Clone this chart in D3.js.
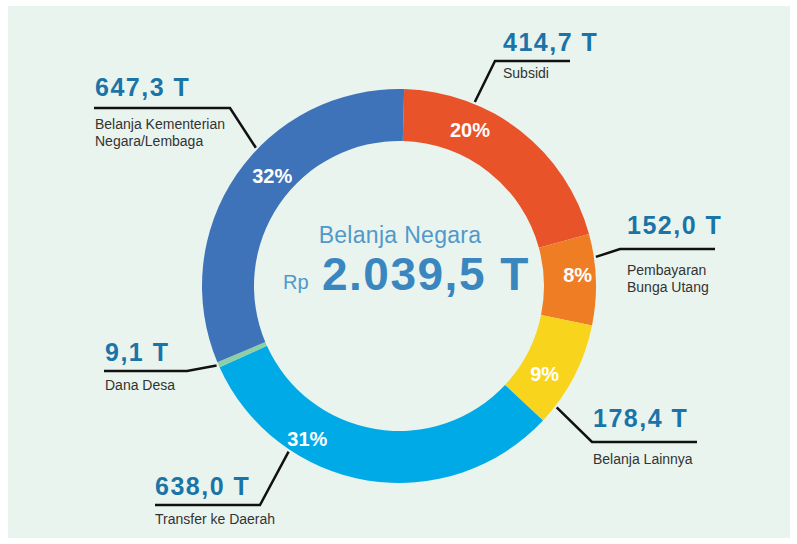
<!DOCTYPE html>
<html>
<head>
<meta charset="utf-8">
<script src="https://cdn.jsdelivr.net/npm/d3@7"></script>
<style>
  body { margin: 0; background: #fff; }
  svg { display: block; }
</style>
</head>
<body>
<script>
// data - Belanja Negara (triliun rupiah)
const categories = ["Subsidi", "Pembayaran Bunga Utang", "Belanja Lainnya", "Transfer ke Daerah", "Dana Desa", "Belanja Kementerian Negara/Lembaga"];
const values = [414.7, 152.0, 178.4, 638.0, 9.1, 647.3];
const pctLabels = ["20%", "8%", "9%", "31%", "", "32%"];
const labelLines = [["Subsidi"], ["Pembayaran", "Bunga Utang"], ["Belanja Lainnya"], ["Transfer ke Daerah"], ["Dana Desa"], ["Belanja Kementerian", "Negara/Lembaga"]];
const colors = ["#e8532a", "#ef7d23", "#f8d41d", "#00aae7", "#8ecfa6", "#3f73b9"];
const centerTitle = "Belanja Negara";

const W = 797, H = 544;
const cx = 399, cy = 286;
const rOuter = 197, rInner = 145;

// posisi callout (sudut dalam derajat dari atas, searah jarum jam)
const layout = {
    "Subsidi": { a: 22.4, ex: 495, ey: 61, fx: 570, tx: 503, vy: 51, ly: 78, pa: 24.5, pr: 171 },
    "Pembayaran Bunga Utang": { a: 81.6, ex: 620, ey: 249, fx: 715, tx: 627, vy: 234, ly: 275, pa: 86.5, pr: 179 },
    "Belanja Lainnya": { a: 127.6, ex: 592, ey: 442, fx: 697, tx: 593, vy: 427, ly: 464, pa: 121, pr: 170 },
    "Transfer ke Daerah": { a: 213.7, ex: 260, ey: 505, fx: 155, tx: 155, vy: 495, ly: 524, pa: 211, pr: 178 },
    "Dana Desa": { a: null, ex: 187, ey: 371, fx: 104, tx: 105, vy: 361, ly: 390 },
    "Belanja Kementerian Negara/Lembaga": { a: 314, ex: 230, ey: 108, fx: 94, tx: 95, vy: 96, ly: 129, pa: 311, pr: 168 }
};

const locale = d3.formatLocale({ decimal: ",", thousands: ".", grouping: [3], currency: ["Rp", ""] });
const fmt = locale.format(",.1f");

const data = categories.map((c, i) => ({ name: c, value: values[i], pct: pctLabels[i], lines: labelLines[i], color: colors[i] }));
const total = d3.sum(values);

const svg = d3.select("body").append("svg")
    .attr("width", W)
    .attr("height", H);

// panel
svg.append("rect")
    .attr("x", 8).attr("y", 6)
    .attr("width", 782).attr("height", 532)
    .attr("fill", "#eaf4ee");

const g = svg.append("g").attr("transform", `translate(${cx},${cy})`);

const start = 1.5 * Math.PI / 180;
const pie = d3.pie()
    .sort(null)
    .value(d => d.value)
    .startAngle(start)
    .endAngle(start + 2 * Math.PI);

const arcs = pie(data);
const arc = d3.arc().innerRadius(rInner).outerRadius(rOuter);

g.selectAll("path.slice")
    .data(arcs)
    .enter()
    .append("path")
    .attr("class", "slice")
    .attr("d", arc)
    .attr("fill", d => d.data.color);

const rad = deg => deg * Math.PI / 180;

// persen di dalam cincin
g.selectAll("text.pct")
    .data(arcs.filter(d => d.data.pct))
    .enter()
    .append("text")
    .attr("class", "pct")
    .attr("x", d => layout[d.data.name].pr * Math.sin(rad(layout[d.data.name].pa)))
    .attr("y", d => -layout[d.data.name].pr * Math.cos(rad(layout[d.data.name].pa)) + 7)
    .attr("text-anchor", "middle")
    .style("font-family", "'Liberation Sans', Arial, sans-serif")
    .style("font-weight", "bold")
    .style("font-size", "20px")
    .attr("fill", "#fff")
    .text(d => d.data.pct);

// garis callout
const line = d3.line();
svg.selectAll("path.leader")
    .data(arcs)
    .enter()
    .append("path")
    .attr("class", "leader")
    .attr("d", d => {
        const L = layout[d.data.name];
        const ang = L.a === null ? (d.startAngle + d.endAngle) / 2 : rad(L.a);
        const r = rOuter + 2;
        const p0 = [cx + r * Math.sin(ang), cy - r * Math.cos(ang)];
        return line([p0, [L.ex, L.ey], [L.fx, L.ey]]);
    })
    .attr("fill", "none")
    .attr("stroke", "#111")
    .attr("stroke-width", 2.5);

// nilai
svg.selectAll("text.val")
    .data(arcs)
    .enter()
    .append("text")
    .attr("class", "val")
    .attr("x", d => layout[d.data.name].tx)
    .attr("y", d => layout[d.data.name].vy)
    .style("font-family", "'Liberation Sans', Arial, sans-serif")
    .style("font-weight", "bold")
    .style("font-size", "25px")
    .style("letter-spacing", "1.5px")
    .attr("fill", "#1a74a8")
    .text(d => fmt(d.data.value) + " T");

// nama kategori
const cat = svg.selectAll("text.cat")
    .data(arcs)
    .enter()
    .append("text")
    .attr("class", "cat")
    .attr("x", d => layout[d.data.name].tx)
    .attr("y", d => layout[d.data.name].ly)
    .style("font-family", "'Liberation Sans', Arial, sans-serif")
    .style("font-size", "14px")
    .attr("fill", "#333");

cat.selectAll("tspan")
    .data(d => d.data.lines.map(t => ({ t, x: layout[d.data.name].tx })))
    .enter()
    .append("tspan")
    .attr("x", d => d.x)
    .attr("dy", (d, i) => i === 0 ? 0 : 17)
    .text(d => d.t);

// tengah
g.append("text")
    .attr("x", 1)
    .attr("y", -43)
    .attr("text-anchor", "middle")
    .style("font-family", "'Liberation Sans', Arial, sans-serif")
    .style("font-size", "23px")
    .style("letter-spacing", "0.3px")
    .attr("fill", "#4f99cb")
    .text(centerTitle);

g.append("text")
    .attr("x", -116)
    .attr("y", 3)
    .style("font-family", "'Liberation Sans', Arial, sans-serif")
    .style("font-size", "20px")
    .attr("fill", "#4f99cb")
    .text("Rp");

g.append("text")
    .attr("x", -77)
    .attr("y", 4)
    .style("font-family", "'Liberation Sans', Arial, sans-serif")
    .style("font-weight", "bold")
    .style("font-size", "46px")
    .style("letter-spacing", "1.5px")
    .attr("fill", "#3a87c0")
    .text(fmt(total) + " T");
</script>
</body>
</html>
